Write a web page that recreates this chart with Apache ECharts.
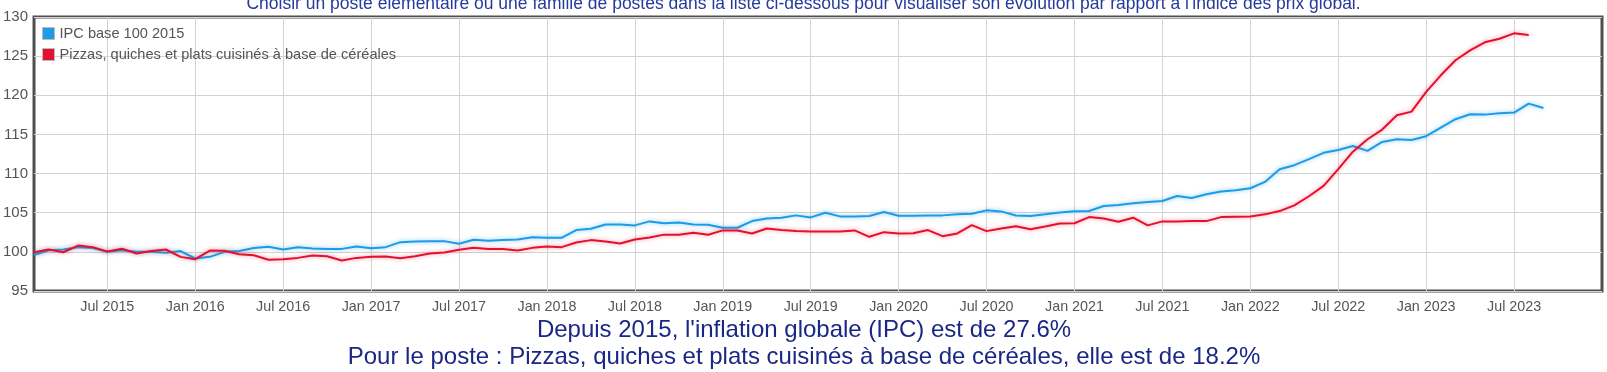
<!DOCTYPE html>
<html>
<head>
<meta charset="utf-8">
<script src="https://cdn.jsdelivr.net/npm/echarts@6/dist/echarts.min.js"></script>
<style>
html,body{margin:0;padding:0;background:#fff;}
#chart{width:1607px;height:372px;}
</style>
</head>
<body>
<div id="chart"></div>
<script>
// ---- data ----
var monthNames = ['Jan','Feb','Mar','Apr','May','Jun','Jul','Aug','Sep','Oct','Nov','Dec'];
var startYear = 2015, startMonth = 1; // Feb 2015 (0-based month)
var monthCount = 108;                 // Feb 2015 .. Jan 2024 (axis extent)
var categories = [];
for (var k = 0; k < monthCount; k++) {
  var m = (startMonth + k) % 12, y = startYear + Math.floor((startMonth + k) / 12);
  categories.push(monthNames[m] + ' ' + y);
}
var seriesNames = ['IPC base 100 2015', 'Pizzas, quiches et plats cuisinés à base de céréales'];
var ipc = [
  99.6,100.2,100.3,100.6,100.5,100.0,100.2,100.0,100.0,99.9,
  100.1,99.15,99.36,100.0,100.1,100.5,100.65,100.3,100.6,100.43,
  100.38,100.38,100.68,100.47,100.6,101.24,101.32,101.37,101.37,101.03,
  101.54,101.41,101.5,101.58,101.88,101.8,101.8,102.78,102.95,103.5,
  103.5,103.38,103.89,103.65,103.75,103.5,103.46,103.08,103.08,103.93,
  104.27,104.36,104.66,104.4,105.0,104.53,104.53,104.57,105.09,104.62,
  104.62,104.66,104.66,104.79,104.87,105.3,105.17,104.64,104.57,104.79,
  105.02,105.19,105.21,105.85,105.98,106.2,106.37,106.5,107.14,106.88,
  107.35,107.7,107.86,108.12,108.93,110.56,111.07,111.84,112.65,113.0,
  113.53,112.9,114.04,114.38,114.3,114.77,115.87,116.94,117.57,117.53,
  117.7,117.79,118.94,118.38
];
var pizzas = [
  99.95,100.3,99.95,100.8,100.6,100.05,100.4,99.8,100.1,100.3,
  99.36,99.06,100.17,100.13,99.7,99.57,99.0,99.05,99.23,99.53,
  99.44,98.89,99.23,99.36,99.4,99.19,99.44,99.79,99.91,100.26,
  100.51,100.38,100.38,100.17,100.51,100.68,100.6,101.2,101.5,101.32,
  101.07,101.58,101.84,102.2,102.18,102.44,102.18,102.74,102.74,102.35,
  102.99,102.78,102.65,102.6,102.6,102.6,102.74,101.92,102.52,102.35,
  102.39,102.78,102.0,102.35,103.42,102.65,102.97,103.27,102.9,103.25,
  103.61,103.65,104.44,104.27,103.85,104.36,103.38,103.89,103.89,103.93,
  103.93,104.44,104.49,104.53,104.79,105.21,105.94,107.1,108.42,110.56,
  112.8,114.38,115.62,117.45,117.91,120.43,122.55,124.47,125.74,126.77,
  127.23,127.91,127.7
];
var yTicks = {min: 95, max: 130, interval: 5};
var topText = "Choisir un poste élémentaire ou une famille de postes dans la liste ci-dessous pour visualiser son évolution par rapport à l'indice des prix global.";
var bottomLine1 = "Depuis 2015, l'inflation globale (IPC) est de 27.6%";
var bottomLine2 = "Pour le poste : Pizzas, quiches et plats cuisinés à base de céréales, elle est de 18.2%";

// ---- chart ----
var FONT = 'Arial, "Liberation Sans", sans-serif';
var chart = echarts.init(document.getElementById('chart'), null, {renderer: 'canvas'});
function isTick(index, value) {
  return index < categories.length - 1 && (value.indexOf('Jan') === 0 || value.indexOf('Jul') === 0);
}
chart.setOption({
  animation: false,
  textStyle: {fontFamily: FONT},
  grid: {left: 33, right: 5, top: 17, bottom: 81, show: true, borderColor: '#4f4f4f', borderWidth: 3, backgroundColor: 'transparent'},
  legend: {
    orient: 'vertical', left: 42, top: 26, padding: 0, itemGap: 6,
    itemWidth: 12, itemHeight: 12, icon: 'rect',
    textStyle: {color: '#555', fontSize: 14.6, fontFamily: FONT},
    data: seriesNames.map(function (n) { return {name: n, itemStyle: {borderColor: '#bbb', borderWidth: 1}}; })
  },
  xAxis: {
    type: 'category', data: categories, boundaryGap: false,
    axisLine: {show: false}, axisTick: {show: false},
    axisLabel: {interval: isTick, color: '#555', fontSize: 14.3, margin: 9, fontFamily: FONT},
    splitLine: {show: true, interval: isTick, lineStyle: {color: '#d3d3d3', width: 1}}
  },
  yAxis: {
    type: 'value', min: yTicks.min, max: yTicks.max, interval: yTicks.interval,
    axisLine: {show: false}, axisTick: {show: false},
    axisLabel: {color: '#555', fontSize: 15, margin: 6, fontFamily: FONT},
    splitLine: {show: true, lineStyle: {color: '#d3d3d3', width: 1}}
  },
  series: [
    {name: seriesNames[0], type: 'line', data: ipc, showSymbol: false, smooth: false,
     itemStyle: {color: '#1e9be6'},
     lineStyle: {color: '#1e9be6', width: 2, shadowColor: 'rgba(30,155,230,0.55)', shadowBlur: 4}},
    {name: seriesNames[1], type: 'line', data: pizzas, showSymbol: false, smooth: false,
     itemStyle: {color: '#e5102d'},
     lineStyle: {color: '#e5102d', width: 2, shadowColor: 'rgba(229,16,45,0.45)', shadowBlur: 4}}
  ],
  graphic: [
    {type: 'text', x: 803.5, y: 4, style: {text: topText, fill: '#253a9c', font: '17.5px ' + FONT, textAlign: 'center', textVerticalAlign: 'middle'}},
    {type: 'text', x: 804, y: 330, style: {text: bottomLine1, fill: '#1a2784', font: '24px ' + FONT, textAlign: 'center', textVerticalAlign: 'middle'}},
    {type: 'text', x: 804, y: 357, style: {text: bottomLine2, fill: '#1a2784', font: '24px ' + FONT, textAlign: 'center', textVerticalAlign: 'middle'}}
  ]
});
</script>
</body>
</html>
